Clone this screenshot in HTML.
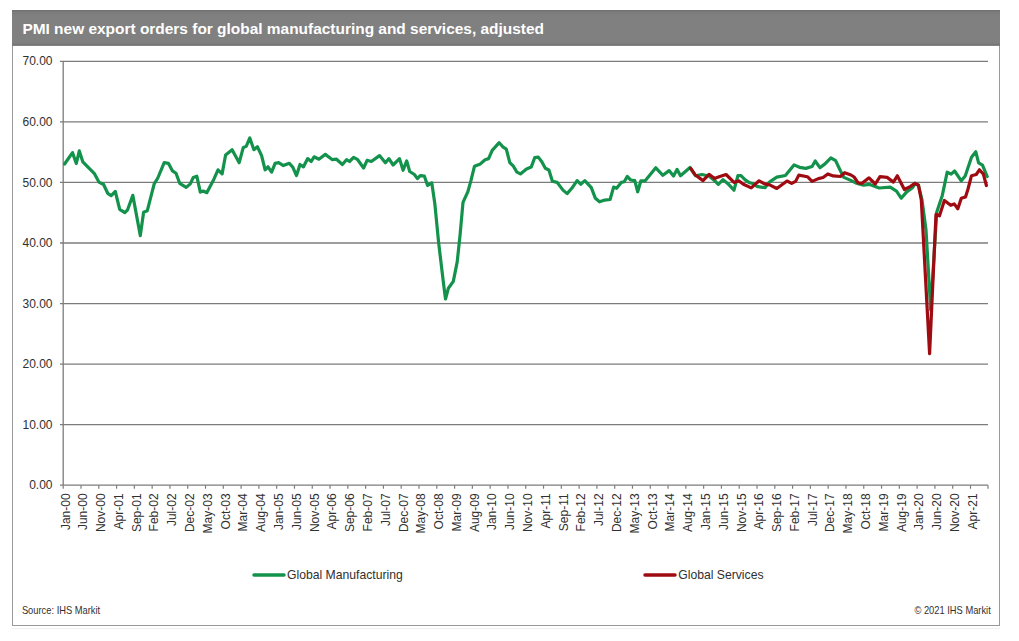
<!DOCTYPE html>
<html><head><meta charset="utf-8">
<style>
html,body{margin:0;padding:0;background:#fff;}
body{width:1019px;height:641px;position:relative;overflow:hidden;font-family:"Liberation Sans",sans-serif;}
svg{position:absolute;left:0;top:0;}
.yl{font-size:12px;fill:#303030;}
.xl{font-size:12px;fill:#303030;}
.lg{font-size:12.2px;fill:#303030;}
.src{font-size:10.5px;fill:#303030;}
</style></head><body>
<svg width="1019" height="641" viewBox="0 0 1019 641">
<rect x="12.5" y="10.5" width="987" height="615" fill="#fff" stroke="#9a9a9a" stroke-width="1"/>
<line x1="12" y1="628.5" x2="1000" y2="628.5" stroke="#f0f0f0" stroke-width="1"/>
<rect x="12" y="10" width="988" height="35.7" fill="#808080"/>
<rect x="12" y="10" width="988" height="2" fill="#747474"/>
<rect x="12" y="13.3" width="988" height="0.8" fill="#787878"/>
<rect x="12" y="43.6" width="988" height="2.1" fill="#767676"/>
<text x="22.4" y="33.6" font-size="15.45" font-weight="bold" fill="#fff">PMI new export orders for global manufacturing and services, adjusted</text>
<line x1="60" y1="424.65" x2="988" y2="424.65" stroke="#7c7c7c" stroke-width="1.3"/>
<line x1="60" y1="364.10" x2="988" y2="364.10" stroke="#7c7c7c" stroke-width="1.3"/>
<line x1="60" y1="303.55" x2="988" y2="303.55" stroke="#7c7c7c" stroke-width="1.3"/>
<line x1="60" y1="243.00" x2="988" y2="243.00" stroke="#7c7c7c" stroke-width="1.3"/>
<line x1="60" y1="182.45" x2="988" y2="182.45" stroke="#7c7c7c" stroke-width="1.3"/>
<line x1="60" y1="121.90" x2="988" y2="121.90" stroke="#7c7c7c" stroke-width="1.3"/>
<line x1="60" y1="61.35" x2="988" y2="61.35" stroke="#7c7c7c" stroke-width="1.3"/>
<line x1="63.2" y1="61.35" x2="63.2" y2="485.20" stroke="#7c7c7c" stroke-width="1.3"/>
<line x1="60" y1="485.2" x2="988" y2="485.2" stroke="#7c7c7c" stroke-width="1.3"/>
<line x1="63.20" y1="485.2" x2="63.20" y2="488.7" stroke="#7c7c7c" stroke-width="1.2"/>
<line x1="80.99" y1="485.2" x2="80.99" y2="488.7" stroke="#7c7c7c" stroke-width="1.2"/>
<line x1="98.78" y1="485.2" x2="98.78" y2="488.7" stroke="#7c7c7c" stroke-width="1.2"/>
<line x1="116.57" y1="485.2" x2="116.57" y2="488.7" stroke="#7c7c7c" stroke-width="1.2"/>
<line x1="134.36" y1="485.2" x2="134.36" y2="488.7" stroke="#7c7c7c" stroke-width="1.2"/>
<line x1="152.15" y1="485.2" x2="152.15" y2="488.7" stroke="#7c7c7c" stroke-width="1.2"/>
<line x1="169.94" y1="485.2" x2="169.94" y2="488.7" stroke="#7c7c7c" stroke-width="1.2"/>
<line x1="187.73" y1="485.2" x2="187.73" y2="488.7" stroke="#7c7c7c" stroke-width="1.2"/>
<line x1="205.52" y1="485.2" x2="205.52" y2="488.7" stroke="#7c7c7c" stroke-width="1.2"/>
<line x1="223.31" y1="485.2" x2="223.31" y2="488.7" stroke="#7c7c7c" stroke-width="1.2"/>
<line x1="241.10" y1="485.2" x2="241.10" y2="488.7" stroke="#7c7c7c" stroke-width="1.2"/>
<line x1="258.89" y1="485.2" x2="258.89" y2="488.7" stroke="#7c7c7c" stroke-width="1.2"/>
<line x1="276.68" y1="485.2" x2="276.68" y2="488.7" stroke="#7c7c7c" stroke-width="1.2"/>
<line x1="294.47" y1="485.2" x2="294.47" y2="488.7" stroke="#7c7c7c" stroke-width="1.2"/>
<line x1="312.26" y1="485.2" x2="312.26" y2="488.7" stroke="#7c7c7c" stroke-width="1.2"/>
<line x1="330.05" y1="485.2" x2="330.05" y2="488.7" stroke="#7c7c7c" stroke-width="1.2"/>
<line x1="347.84" y1="485.2" x2="347.84" y2="488.7" stroke="#7c7c7c" stroke-width="1.2"/>
<line x1="365.63" y1="485.2" x2="365.63" y2="488.7" stroke="#7c7c7c" stroke-width="1.2"/>
<line x1="383.42" y1="485.2" x2="383.42" y2="488.7" stroke="#7c7c7c" stroke-width="1.2"/>
<line x1="401.21" y1="485.2" x2="401.21" y2="488.7" stroke="#7c7c7c" stroke-width="1.2"/>
<line x1="419.00" y1="485.2" x2="419.00" y2="488.7" stroke="#7c7c7c" stroke-width="1.2"/>
<line x1="436.79" y1="485.2" x2="436.79" y2="488.7" stroke="#7c7c7c" stroke-width="1.2"/>
<line x1="454.58" y1="485.2" x2="454.58" y2="488.7" stroke="#7c7c7c" stroke-width="1.2"/>
<line x1="472.37" y1="485.2" x2="472.37" y2="488.7" stroke="#7c7c7c" stroke-width="1.2"/>
<line x1="490.16" y1="485.2" x2="490.16" y2="488.7" stroke="#7c7c7c" stroke-width="1.2"/>
<line x1="507.95" y1="485.2" x2="507.95" y2="488.7" stroke="#7c7c7c" stroke-width="1.2"/>
<line x1="525.74" y1="485.2" x2="525.74" y2="488.7" stroke="#7c7c7c" stroke-width="1.2"/>
<line x1="543.53" y1="485.2" x2="543.53" y2="488.7" stroke="#7c7c7c" stroke-width="1.2"/>
<line x1="561.32" y1="485.2" x2="561.32" y2="488.7" stroke="#7c7c7c" stroke-width="1.2"/>
<line x1="579.11" y1="485.2" x2="579.11" y2="488.7" stroke="#7c7c7c" stroke-width="1.2"/>
<line x1="596.90" y1="485.2" x2="596.90" y2="488.7" stroke="#7c7c7c" stroke-width="1.2"/>
<line x1="614.69" y1="485.2" x2="614.69" y2="488.7" stroke="#7c7c7c" stroke-width="1.2"/>
<line x1="632.48" y1="485.2" x2="632.48" y2="488.7" stroke="#7c7c7c" stroke-width="1.2"/>
<line x1="650.27" y1="485.2" x2="650.27" y2="488.7" stroke="#7c7c7c" stroke-width="1.2"/>
<line x1="668.06" y1="485.2" x2="668.06" y2="488.7" stroke="#7c7c7c" stroke-width="1.2"/>
<line x1="685.85" y1="485.2" x2="685.85" y2="488.7" stroke="#7c7c7c" stroke-width="1.2"/>
<line x1="703.64" y1="485.2" x2="703.64" y2="488.7" stroke="#7c7c7c" stroke-width="1.2"/>
<line x1="721.43" y1="485.2" x2="721.43" y2="488.7" stroke="#7c7c7c" stroke-width="1.2"/>
<line x1="739.22" y1="485.2" x2="739.22" y2="488.7" stroke="#7c7c7c" stroke-width="1.2"/>
<line x1="757.01" y1="485.2" x2="757.01" y2="488.7" stroke="#7c7c7c" stroke-width="1.2"/>
<line x1="774.80" y1="485.2" x2="774.80" y2="488.7" stroke="#7c7c7c" stroke-width="1.2"/>
<line x1="792.59" y1="485.2" x2="792.59" y2="488.7" stroke="#7c7c7c" stroke-width="1.2"/>
<line x1="810.38" y1="485.2" x2="810.38" y2="488.7" stroke="#7c7c7c" stroke-width="1.2"/>
<line x1="828.17" y1="485.2" x2="828.17" y2="488.7" stroke="#7c7c7c" stroke-width="1.2"/>
<line x1="845.96" y1="485.2" x2="845.96" y2="488.7" stroke="#7c7c7c" stroke-width="1.2"/>
<line x1="863.75" y1="485.2" x2="863.75" y2="488.7" stroke="#7c7c7c" stroke-width="1.2"/>
<line x1="881.54" y1="485.2" x2="881.54" y2="488.7" stroke="#7c7c7c" stroke-width="1.2"/>
<line x1="899.33" y1="485.2" x2="899.33" y2="488.7" stroke="#7c7c7c" stroke-width="1.2"/>
<line x1="917.12" y1="485.2" x2="917.12" y2="488.7" stroke="#7c7c7c" stroke-width="1.2"/>
<line x1="934.91" y1="485.2" x2="934.91" y2="488.7" stroke="#7c7c7c" stroke-width="1.2"/>
<line x1="952.70" y1="485.2" x2="952.70" y2="488.7" stroke="#7c7c7c" stroke-width="1.2"/>
<line x1="970.49" y1="485.2" x2="970.49" y2="488.7" stroke="#7c7c7c" stroke-width="1.2"/>
<line x1="988" y1="485.2" x2="988" y2="488.7" stroke="#7c7c7c" stroke-width="1.2"/>
<text x="52.5" y="489.30" text-anchor="end" class="yl">0.00</text>
<text x="52.5" y="428.75" text-anchor="end" class="yl">10.00</text>
<text x="52.5" y="368.20" text-anchor="end" class="yl">20.00</text>
<text x="52.5" y="307.65" text-anchor="end" class="yl">30.00</text>
<text x="52.5" y="247.10" text-anchor="end" class="yl">40.00</text>
<text x="52.5" y="186.55" text-anchor="end" class="yl">50.00</text>
<text x="52.5" y="126.00" text-anchor="end" class="yl">60.00</text>
<text x="52.5" y="65.45" text-anchor="end" class="yl">70.00</text>
<text transform="translate(69.50,493.4) rotate(-90)" text-anchor="end" class="xl">Jan-00</text>
<text transform="translate(87.29,493.4) rotate(-90)" text-anchor="end" class="xl">Jun-00</text>
<text transform="translate(105.08,493.4) rotate(-90)" text-anchor="end" class="xl">Nov-00</text>
<text transform="translate(122.87,493.4) rotate(-90)" text-anchor="end" class="xl">Apr-01</text>
<text transform="translate(140.66,493.4) rotate(-90)" text-anchor="end" class="xl">Sep-01</text>
<text transform="translate(158.45,493.4) rotate(-90)" text-anchor="end" class="xl">Feb-02</text>
<text transform="translate(176.24,493.4) rotate(-90)" text-anchor="end" class="xl">Jul-02</text>
<text transform="translate(194.03,493.4) rotate(-90)" text-anchor="end" class="xl">Dec-02</text>
<text transform="translate(211.82,493.4) rotate(-90)" text-anchor="end" class="xl">May-03</text>
<text transform="translate(229.61,493.4) rotate(-90)" text-anchor="end" class="xl">Oct-03</text>
<text transform="translate(247.40,493.4) rotate(-90)" text-anchor="end" class="xl">Mar-04</text>
<text transform="translate(265.19,493.4) rotate(-90)" text-anchor="end" class="xl">Aug-04</text>
<text transform="translate(282.98,493.4) rotate(-90)" text-anchor="end" class="xl">Jan-05</text>
<text transform="translate(300.77,493.4) rotate(-90)" text-anchor="end" class="xl">Jun-05</text>
<text transform="translate(318.56,493.4) rotate(-90)" text-anchor="end" class="xl">Nov-05</text>
<text transform="translate(336.35,493.4) rotate(-90)" text-anchor="end" class="xl">Apr-06</text>
<text transform="translate(354.14,493.4) rotate(-90)" text-anchor="end" class="xl">Sep-06</text>
<text transform="translate(371.93,493.4) rotate(-90)" text-anchor="end" class="xl">Feb-07</text>
<text transform="translate(389.72,493.4) rotate(-90)" text-anchor="end" class="xl">Jul-07</text>
<text transform="translate(407.51,493.4) rotate(-90)" text-anchor="end" class="xl">Dec-07</text>
<text transform="translate(425.30,493.4) rotate(-90)" text-anchor="end" class="xl">May-08</text>
<text transform="translate(443.09,493.4) rotate(-90)" text-anchor="end" class="xl">Oct-08</text>
<text transform="translate(460.88,493.4) rotate(-90)" text-anchor="end" class="xl">Mar-09</text>
<text transform="translate(478.67,493.4) rotate(-90)" text-anchor="end" class="xl">Aug-09</text>
<text transform="translate(496.46,493.4) rotate(-90)" text-anchor="end" class="xl">Jan-10</text>
<text transform="translate(514.25,493.4) rotate(-90)" text-anchor="end" class="xl">Jun-10</text>
<text transform="translate(532.04,493.4) rotate(-90)" text-anchor="end" class="xl">Nov-10</text>
<text transform="translate(549.83,493.4) rotate(-90)" text-anchor="end" class="xl">Apr-11</text>
<text transform="translate(567.62,493.4) rotate(-90)" text-anchor="end" class="xl">Sep-11</text>
<text transform="translate(585.41,493.4) rotate(-90)" text-anchor="end" class="xl">Feb-12</text>
<text transform="translate(603.20,493.4) rotate(-90)" text-anchor="end" class="xl">Jul-12</text>
<text transform="translate(620.99,493.4) rotate(-90)" text-anchor="end" class="xl">Dec-12</text>
<text transform="translate(638.78,493.4) rotate(-90)" text-anchor="end" class="xl">May-13</text>
<text transform="translate(656.57,493.4) rotate(-90)" text-anchor="end" class="xl">Oct-13</text>
<text transform="translate(674.36,493.4) rotate(-90)" text-anchor="end" class="xl">Mar-14</text>
<text transform="translate(692.15,493.4) rotate(-90)" text-anchor="end" class="xl">Aug-14</text>
<text transform="translate(709.94,493.4) rotate(-90)" text-anchor="end" class="xl">Jan-15</text>
<text transform="translate(727.73,493.4) rotate(-90)" text-anchor="end" class="xl">Jun-15</text>
<text transform="translate(745.52,493.4) rotate(-90)" text-anchor="end" class="xl">Nov-15</text>
<text transform="translate(763.31,493.4) rotate(-90)" text-anchor="end" class="xl">Apr-16</text>
<text transform="translate(781.10,493.4) rotate(-90)" text-anchor="end" class="xl">Sep-16</text>
<text transform="translate(798.89,493.4) rotate(-90)" text-anchor="end" class="xl">Feb-17</text>
<text transform="translate(816.68,493.4) rotate(-90)" text-anchor="end" class="xl">Jul-17</text>
<text transform="translate(834.47,493.4) rotate(-90)" text-anchor="end" class="xl">Dec-17</text>
<text transform="translate(852.26,493.4) rotate(-90)" text-anchor="end" class="xl">May-18</text>
<text transform="translate(870.05,493.4) rotate(-90)" text-anchor="end" class="xl">Oct-18</text>
<text transform="translate(887.84,493.4) rotate(-90)" text-anchor="end" class="xl">Mar-19</text>
<text transform="translate(905.63,493.4) rotate(-90)" text-anchor="end" class="xl">Aug-19</text>
<text transform="translate(923.42,493.4) rotate(-90)" text-anchor="end" class="xl">Jan-20</text>
<text transform="translate(941.21,493.4) rotate(-90)" text-anchor="end" class="xl">Jun-20</text>
<text transform="translate(959.00,493.4) rotate(-90)" text-anchor="end" class="xl">Nov-20</text>
<text transform="translate(976.79,493.4) rotate(-90)" text-anchor="end" class="xl">Apr-21</text>
<polyline points="64.6,164 72.5,152.6 76.3,163.5 79.3,150.9 82.8,161.8 94.2,173.3 98.9,182.1 103.6,184.5 107.7,193.3 111.2,195.6 115.3,191.5 119.7,209.3 124.8,212.6 127.6,209.8 132.8,195.3 140.3,235.6 143.6,212.2 147.3,210.7 154.2,183.9 157.8,178 164.2,162.7 168.4,163.3 172.5,170.9 176,173.3 179.7,183.3 186.2,187.4 190.3,183.9 193.3,177.4 196.8,176.2 200.3,192.1 203.3,191 206.8,192.7 213.9,179.2 218,169.8 222.1,173.9 225.6,155 232.1,149.7 239.2,162.7 243.3,147.4 246.3,146.2 249.8,138 253.9,149.7 257.4,146.8 261.6,155.6 265.1,169.8 268,166.8 271.6,172.1 275.1,163.3 278.6,162.7 283.4,165.6 289.3,163.3 292.9,167.4 296.5,175.6 300,164.5 303.5,166.8 307.7,158.6 311.2,161.5 314.1,156.8 318.9,159.2 325.3,154.4 332.4,159.7 336.5,159.2 342.4,164.5 346.5,159.7 349.5,161.5 353.6,157.4 357.7,159.7 363.6,168 367.1,160.3 371.3,161.5 379.5,155.6 385.4,162.7 388.9,158.6 393.1,165 399.5,158.6 403.1,170.3 406.7,160.9 409.7,171.5 414.4,174.5 417.4,178.6 420.3,175.6 424.4,176.2 427.6,185.5 431.8,182.9 434.8,203.4 438.6,242.4 443.5,283.4 445.5,299 448.4,288.2 453.3,281.4 457.2,261.9 460.1,234.6 463,202.4 467.9,191.7 471,180.4 474.5,166.2 480.4,163.9 485.1,159.7 488.6,158.6 492.2,150.3 499.2,142.7 502.8,146.8 506.3,149.1 509.8,162.7 513.4,166.2 516.9,172.1 520.4,173.9 526.5,168.9 531.2,167.1 534.7,157.7 538.3,157.1 541.8,161.8 545.3,168.3 548.9,170 552.4,181.2 557.1,182.4 563,190.1 567.1,193.6 571.8,188.3 577.1,180.6 580.7,184.2 584.8,180.6 591.3,187.7 595.4,198.3 599.5,201.8 604.8,200.1 610.1,199.5 613.6,187.1 616.6,188.3 621.3,182.4 624.2,181.8 627.2,176.5 630.7,180 634.8,180.6 637.7,191.8 640.9,180.8 645.2,180.8 655.8,167.8 662.9,175.3 669.1,170.6 673.5,176.1 677,169.4 680.5,175.7 690,167.5 695.5,175.7 701.8,174.5 709,176 715,181 718.3,184.3 723,179.6 728.5,184.3 734,190.2 737.9,175.7 741,175.7 744.9,179.6 749.7,182.8 752.8,183.5 756.7,186.3 765,187.7 769.7,181.8 776.8,177.1 785.4,175.5 794,164.9 799.5,167.3 805.8,168.4 812.1,166.5 815.2,161 819.9,167.7 824.7,164.1 830.9,157.8 835.6,160.6 840.4,170.8 843.9,177.4 850.2,180.1 855.7,182.9 863.5,185.2 869.8,184.4 879.2,188 890.2,187.2 896.5,191.1 901.2,198.2 906.7,191.9 912.2,188 915.4,183.3 918.5,185.6 922,200 926,230 930.7,310 936.7,212.3 942.3,195.4 947.2,172.2 951.1,174.1 954.6,171 961.3,180.8 965.2,176.1 971.5,157.3 975.8,151.8 978.6,162.8 982.5,165.1 987.2,176.5" fill="none" stroke="#13924c" stroke-width="3.2" stroke-linejoin="round" stroke-linecap="round"/>
<polyline points="690.7,168.4 695,174.7 703,180.6 709,174.3 714.5,178.6 719.8,176.5 726.1,174.5 734,182.4 738.7,180.8 743.4,184.3 751.2,187.9 759.1,180.8 764.6,183.9 769.7,184.9 776.8,188.5 787,181 791.7,183.4 795.6,181.4 798.8,175.1 807.4,176.7 812.1,181.4 818.4,178.6 823.1,177.5 827.8,173.9 833.3,175.9 840.4,176.5 844.7,172.7 851,175 854.1,177 858.1,182.9 862,183.3 869,177.8 875.3,184 880,176.6 887.1,177.4 893.4,182.1 897.3,175.8 904.4,189.5 910.6,186.4 914.8,183.4 918.4,184.9 921.3,200 929.6,353.6 936,214.4 939.5,215.8 944.4,200.4 950.7,205.3 954.2,203.9 957.8,208.8 961.3,198.3 965.5,196.9 968,189 971.5,175.7 976.2,174.5 979.4,169.8 983.3,173.8 986.4,185.5" fill="none" stroke="#9e0c12" stroke-width="3.2" stroke-linejoin="round" stroke-linecap="round"/>
<line x1="254" y1="575" x2="284" y2="575" stroke="#13924c" stroke-width="3.5" stroke-linecap="round"/>
<text x="287" y="578.6" class="lg">Global Manufacturing</text>
<line x1="645" y1="574.9" x2="675" y2="574.9" stroke="#9e0c12" stroke-width="3.5" stroke-linecap="round"/>
<text x="678.2" y="578.6" class="lg">Global Services</text>
<text x="21.9" y="614.1" class="src" transform="translate(21.9,0) scale(0.89,1) translate(-21.9,0)">Source: IHS Markit</text>
<text x="990.8" y="614.1" class="src" text-anchor="end" transform="translate(990.8,0) scale(0.89,1) translate(-990.8,0)">© 2021 IHS Markit</text>
</svg>
</body></html>
